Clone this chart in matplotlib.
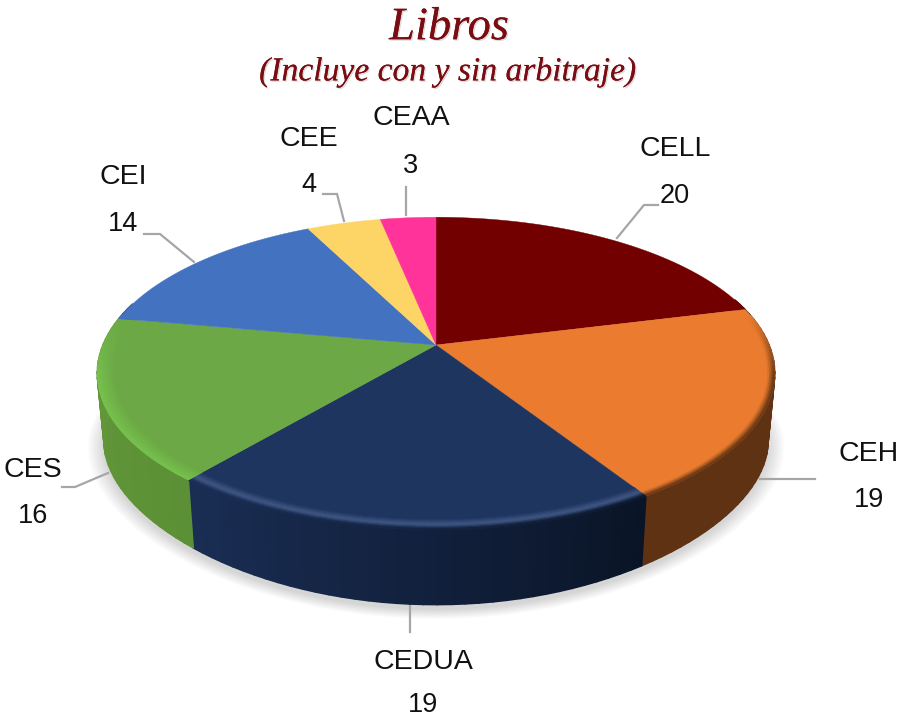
import numpy as np
import matplotlib
matplotlib.use("Agg")
import matplotlib.pyplot as plt
import matplotlib.patheffects as pe
from matplotlib.collections import PolyCollection
from matplotlib.colors import to_rgb

categories = ["CELL", "CEH", "CEDUA", "CES", "CEI", "CEE", "CEAA"]
values = [20, 19, 19, 16, 14, 4, 3]

face_colors = ["#720000", "#ea7b2f", "#1d355f", "#6ca845", "#4372c1", "#fdd466", "#ff3399"]
rim_colors = ["#720000", "#ea7b2f", "#3f5684", "#76c24e", "#4372c1", "#fdd466", "#ff3399"]
wall_left = ["#4a0000", "#5e3212", "#1a2e55", "#64993a", "#2c4f8c", "#b59a46", "#b02070"]
wall_right = ["#4a0000", "#5e3212", "#0a1426", "#5c9036", "#2c4f8c", "#b59a46", "#b02070"]
rim_to_wall = [0, 1, 1, 0, 0, 0, 0]

CX, CY = 436.0, 345.0
R, B, K = 333.0, 151.0, 0.182
F, B2, K2, D = 0.98, 132.0, 0.30, 71.0


def top_xy(theta, t=1.0):
    c, s = t * np.sin(theta), t * np.cos(theta)
    d = 1 + K * s
    return CX + R * c / d, CY - B * s / d


def bottom_xy(theta, grow=0.0, dy=0.0):
    c, s = np.sin(theta), np.cos(theta)
    x = F * R * c / (1 + K * s) * (1 + grow)
    y = B2 * s / (1 + K2 * s) * (1 + grow)
    return CX + x, CY + D + dy - y


def mix(a, b, w):
    return tuple(np.array(a) * (1 - w) + np.array(b) * w)


fig = plt.figure(figsize=(8.99, 7.19), dpi=100, facecolor="white")
ax = fig.add_axes([0, 0, 1, 1])
ax.set_xlim(0, 899)
ax.set_ylim(719, 0)
ax.axis("off")

# soft shadow under the pie
all_t = np.linspace(0, 2 * np.pi, 240)
for g in np.linspace(0.05, 0.0, 14):
    xs, ys = bottom_xy(all_t, grow=g, dy=5)
    ax.fill(xs, ys, color="black", alpha=0.010, lw=0, zorder=1)

# leader lines
leader_x = [[617, 644, 658], [760, 815], [410, 410], [62, 75, 108],
            [144, 160, 194], [323, 337, 344], [406, 406]]
leader_y = [[238, 205, 205], [479, 479], [605, 632], [487, 487, 473],
            [234, 234, 262], [194, 194, 221], [187, 215]]
for lx, ly in zip(leader_x, leader_y):
    ax.plot(lx, ly, color="#a6a6a6", lw=1.6, zorder=2, solid_joinstyle="miter")

vals = np.array(values, dtype=float)
edges = np.concatenate([[0], np.cumsum(vals)]) / vals.sum() * 2 * np.pi

# walls
for i in range(len(vals)):
    n = max(4, int(np.degrees(edges[i + 1] - edges[i]) / 2))
    th = np.linspace(edges[i], edges[i + 1], n + 1)
    quads, cols = [], []
    for j in range(n):
        a, b = th[j], th[j + 1]
        if np.cos((a + b) / 2) > 0.3:
            continue
        xa, ya = top_xy(a)
        xb, yb = top_xy(b)
        xc, yc = bottom_xy(b)
        xd, yd = bottom_xy(a)
        quads.append([(xa, ya), (xb, yb), (xc, yc), (xd, yd)])
        cols.append(mix(to_rgb(wall_left[i]), to_rgb(wall_right[i]), 1 - (j + 0.5) / n))
    if quads:
        ax.add_collection(PolyCollection(quads, facecolors=cols, edgecolors=cols,
                                         linewidths=1.2, zorder=3))

# top faces
for i in range(len(vals)):
    n = max(4, int(np.degrees(edges[i + 1] - edges[i])))
    th = np.linspace(edges[i], edges[i + 1], n + 1)
    x, y = top_xy(th)
    ax.fill(np.r_[CX, x], np.r_[CY, y], color=face_colors[i], lw=0.3, zorder=4)

# bevelled rim
T0 = 0.95
ts = np.linspace(T0, 1.0, 11)
for i in range(len(vals)):
    n = max(4, int(np.degrees(edges[i + 1] - edges[i])))
    th = np.linspace(edges[i], edges[i + 1], n + 1)
    face, hi = to_rgb(face_colors[i]), to_rgb(rim_colors[i])
    quads, cols = [], []
    for j in range(n):
        a, b = th[j], th[j + 1]
        m = (a + b) / 2
        w = np.clip((0.2 - np.cos(m)) / 0.4, 0, 1)
        if w <= 0:
            continue
        wall = mix(to_rgb(wall_left[i]), to_rgb(wall_right[i]), 1 - (j + 0.5) / n)
        for k in range(len(ts) - 1):
            u = (k + 0.5) / (len(ts) - 1)
            col = mix(face, hi, np.sin(np.pi * min(u ** 1.5, 1)) if rim_to_wall[i] else u)
            col = mix(col, wall, rim_to_wall[i] * np.clip((u - 0.6) / 0.4, 0, 1))
            col = mix(face, col, w)
            p = [top_xy(a, ts[k]), top_xy(b, ts[k]), top_xy(b, ts[k + 1]), top_xy(a, ts[k + 1])]
            quads.append(p)
            cols.append(col)
    if quads:
        ax.add_collection(PolyCollection(quads, facecolors=cols, edgecolors=cols,
                                         linewidths=0.6, zorder=5))

# labels
label_x = [675, 869, 423, 33, 123, 309, 411]
name_y = [149, 454, 662, 470, 177, 139, 118]
value_y = [196, 500, 705, 516, 224, 185, 166]
for cat, v, lx, ny, vy in zip(categories, values, label_x, name_y, value_y):
    ax.text(lx, ny, cat, ha="center", va="center", fontsize=20.5,
            family="Liberation Sans", color="#111111", zorder=6)
    ax.text(lx, vy, str(v), ha="center", va="center", fontsize=19.5,
            family="Liberation Sans", color="#111111", zorder=6)

# titles
shadow = [pe.withSimplePatchShadow(offset=(1, -1), shadow_rgbFace="#888888", alpha=0.3), pe.Normal()]
ax.text(449, 28, "Libros", ha="center", va="center", fontsize=33.5, style="italic",
        family="Liberation Serif", color="#7a0c12", path_effects=shadow, zorder=6)
ax.text(448, 72, "(Incluye con y sin arbitraje)", ha="center", va="center", fontsize=24.2,
        style="italic", family="Liberation Serif", color="#7a0c12", path_effects=shadow, zorder=6)

fig.savefig("out.png", dpi=100, facecolor="white")
